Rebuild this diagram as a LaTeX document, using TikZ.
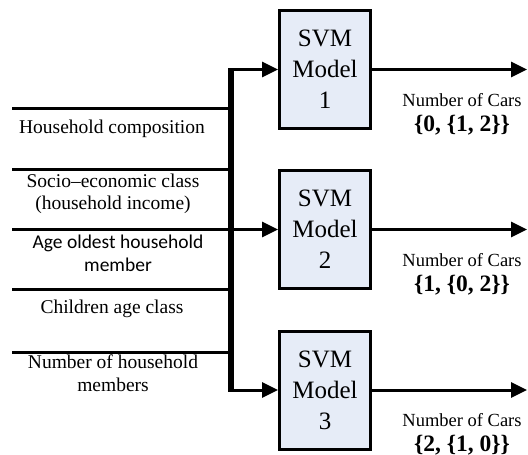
\documentclass[tikz,border=0pt]{standalone}
\usepackage{fontspec}
\setmainfont{Liberation Serif}
\newfontfamily\labelsans{Carlito}
\usetikzlibrary{arrows.meta}
\definecolor{boxblue}{RGB}{230,236,247}
\tikzset{
  svmbox/.style={draw, line width=3pt, fill=boxblue, minimum width=91pt, minimum height=118pt, inner sep=0pt, align=center, font=\fontsize{25}{31}\selectfont},
  inlabel/.style={align=center, font=\fontsize{19.5}{22.5}\selectfont},
  carslabel/.style={font=\fontsize{18.5}{22}\selectfont},
  setlabel/.style={font=\bfseries\fontsize{23.5}{26}\selectfont},
  feed/.style={line width=3pt},
  flow/.style={line width=3pt, -{Triangle[length=16pt,width=15pt]}}
}
\begin{document}
\begin{tikzpicture}[x=1pt,y=-1pt]
\useasboundingbox (0,0) rectangle (528,455);
\node[svmbox] (m1) at (325,69.5) {SVM\\Model\\1};
\node[svmbox] (m2) at (325,229.5) {SVM\\Model\\2};
\node[svmbox] (m3) at (325,390) {SVM\\Model\\3};
\coordinate (bustop) at (231,68);
\coordinate (busbot) at (231,391.5);
\draw[line width=6pt] (bustop) -- (busbot);
\draw[flow] (bustop |- m1.west) -- (m1.west);
\draw[flow] (bustop |- m2.west) -- (m2.west);
\draw[flow] (bustop |- m3.west) -- (m3.west);
\coordinate (in1) at (12,108);
\coordinate (in2) at (12,169);
\coordinate (in3) at (12,229.5);
\coordinate (in4) at (12,289);
\coordinate (in5) at (12,352);
\draw[feed] (in1) -- (in1 -| busbot);
\draw[feed] (in2) -- (in2 -| busbot);
\draw[feed] (in3) -- (in3 -| busbot);
\draw[feed] (in4) -- (in4 -| busbot);
\draw[feed] (in5) -- (in5 -| busbot);
\node[inlabel] (composition) at (112,129) {Household composition};
\node[inlabel] (income) at (113,194) {Socio--economic class\\(household income)};
\node[inlabel, font=\labelsans\fontsize{19.5}{23}\selectfont] (oldest) at (118,253.5) {Age oldest household\\member};
\node[inlabel] (children) at (112,309) {Children age class};
\node[inlabel] (members) at (113,373) {Number of household\\members};
\coordinate (out1) at (527,69.5);
\coordinate (out2) at (527,229.5);
\coordinate (out3) at (527,390);
\draw[flow] (m1.east) -- (out1);
\draw[flow] (m2.east) -- (out2);
\draw[flow] (m3.east) -- (out3);
\node[carslabel] (cars1) at (462,100) {Number of Cars};
\node[setlabel] (set1) at (462,125) {\{0, \{1, 2\}\}};
\node[carslabel] (cars2) at (462,260) {Number of Cars};
\node[setlabel] (set2) at (462,285) {\{1, \{0, 2\}\}};
\node[carslabel] (cars3) at (462,420) {Number of Cars};
\node[setlabel] (set3) at (462,445) {\{2, \{1, 0\}\}};
\end{tikzpicture}
\end{document}
